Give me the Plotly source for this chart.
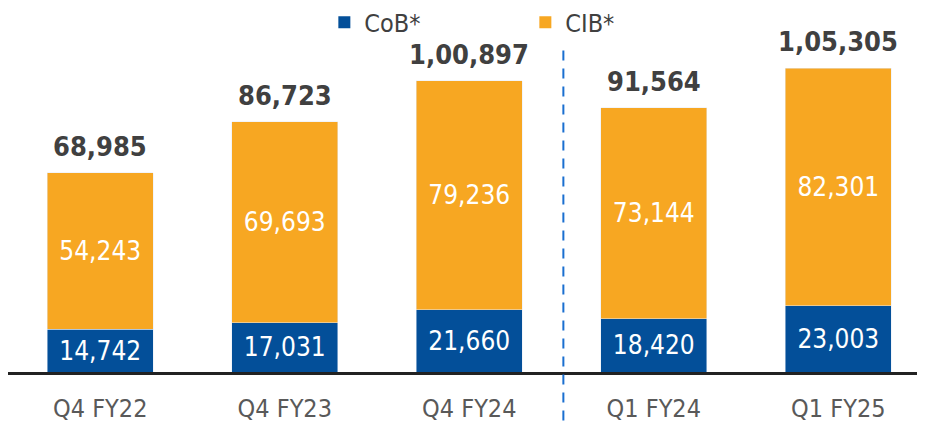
import plotly.graph_objects as go

categories = ["Q4 FY22", "Q4 FY23", "Q4 FY24", "Q1 FY24", "Q1 FY25"]
cob = [14742, 17031, 21660, 18420, 23003]
cib = [54243, 69693, 79236, 73144, 82301]
totals = [68985, 86723, 100897, 91564, 105305]
series_names = ["CoB*", "CIB*"]


def indian(n):
    s = str(int(n))
    if len(s) <= 3:
        return s
    head, tail = s[:-3], s[-3:]
    parts = []
    while len(head) > 2:
        parts.insert(0, head[-2:])
        head = head[:-2]
    if head:
        parts.insert(0, head)
    return ",".join(parts) + "," + tail


BLUE = "#034f99"
ORANGE = "#f7a722"
FONT = "DejaVu Sans Condensed, DejaVu Sans, sans-serif"

fig = go.Figure()
fig.add_trace(go.Bar(
    name=series_names[0], x=categories, y=cob, marker_color=BLUE, width=0.575, showlegend=False,
    text=[indian(v) for v in cob], textposition="inside", insidetextanchor="middle",
    textangle=0, textfont=dict(color="white", size=26, family=FONT), cliponaxis=False,
))
fig.add_trace(go.Bar(
    name=series_names[1], x=categories, y=cib, marker_color=ORANGE, width=0.575, showlegend=False,
    text=[indian(v) for v in cib], textposition="inside", insidetextanchor="middle",
    textangle=0, textfont=dict(color="white", size=26, family=FONT), cliponaxis=False,
))
for nm, col in zip(series_names, [BLUE, ORANGE]):
    fig.add_trace(go.Scatter(x=[None], y=[None], mode="markers", name=nm,
                             marker=dict(symbol="square", size=17, color=col)))

for c, t in zip(categories, totals):
    fig.add_annotation(x=c, y=t, text="<b>" + indian(t) + "</b>", showarrow=False,
                       yanchor="bottom", yshift=9,
                       font=dict(size=27, color="#404040", family=FONT))

fig.add_shape(type="line", xref="x", yref="paper", x0=2.51, x1=2.51, y0=-0.2, y1=1.066,
              line=dict(color="#1a6fd0", width=2, dash="10px,8px"))

fig.update_layout(
    barmode="stack",
    width=925, height=424,
    margin=dict(l=0, r=8, t=32, b=60, autoexpand=False),
    plot_bgcolor="white", paper_bgcolor="white",
    font=dict(family=FONT, color="#404040"),
    showlegend=True,
    legend=dict(orientation="h", xref="container", yref="container",
                x=0.342, xanchor="left", y=0.966, yanchor="middle",
                entrywidth=156, entrywidthmode="pixels", itemwidth=30,
                font=dict(size=25, color="#404040", family=FONT),
                itemsizing="constant", traceorder="normal"),
    xaxis=dict(range=[-0.5, 4.47], showline=True, linecolor="#222222", linewidth=3,
               showgrid=False, zeroline=False, ticks="", ticklabelstandoff=12, automargin=False,
               tickfont=dict(size=25, color="#595959", family=FONT)),
    yaxis=dict(range=[0, 115077], visible=False, showgrid=False, zeroline=False, automargin=False),
)

fig.write_html("out.html")
